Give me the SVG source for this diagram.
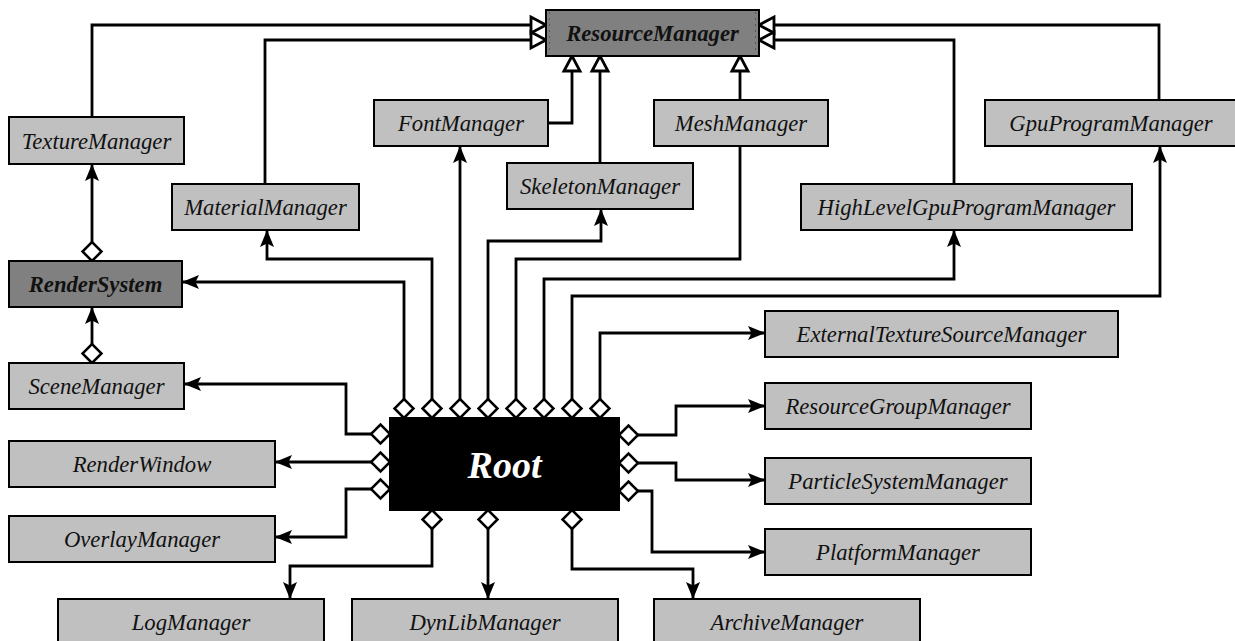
<svg xmlns="http://www.w3.org/2000/svg" width="1235" height="641" viewBox="0 0 1235 641">
<style>
.box{fill:#c0c0c0;stroke:#000;stroke-width:2}
.abs{fill:#808080;stroke:#000;stroke-width:2}
.root{fill:#000;stroke:#000;stroke-width:2}
text{font-family:"Liberation Serif","Times New Roman",serif;font-style:italic;font-size:22.7px;text-anchor:middle;fill:#111}
.b{font-weight:bold}
.rt{font-weight:bold;font-size:38px;fill:#fff}
.c{fill:none;stroke:#000;stroke-width:2.8}
.gen{marker-end:url(#tri)}
.comp{marker-start:url(#dia);marker-end:url(#arr)}
.compn{marker-start:url(#dia)}
</style>
<defs>
<marker id="arr" markerUnits="userSpaceOnUse" markerWidth="22" markerHeight="18" viewBox="0 -9 19 18" refX="17" refY="0" orient="auto" overflow="visible">
<path d="M17,0 L0,-7 L3.5,0 L0,7 Z" fill="#000"/>
</marker>
<marker id="tri" markerUnits="userSpaceOnUse" markerWidth="22" markerHeight="22" viewBox="-2 -11 20 22" refX="15" refY="0" orient="auto" overflow="visible">
<path d="M0,-8 L15,0 L0,8 Z" fill="#fff" stroke="#000" stroke-width="2.8" stroke-linejoin="miter"/>
</marker>
<marker id="dia" markerUnits="userSpaceOnUse" markerWidth="24" markerHeight="24" viewBox="-2 -12 24 24" refX="0" refY="0" orient="auto" overflow="visible">
<path d="M0,0 L9.5,-9.5 L19,0 L9.5,9.5 Z" fill="#fff" stroke="#000" stroke-width="2.5"/>
</marker>
</defs>

<g id="connectors">
<path class="c gen" d="M92,117 V25 H546"/>
<path class="c gen" d="M265,184 V40 H546"/>
<path class="c gen" d="M548,123 H572 V56"/>
<path class="c gen" d="M600,163 V56"/>
<path class="c gen" d="M740,100 V56"/>
<path class="c gen" d="M954,184 V40 H759"/>
<path class="c gen" d="M1159,100 V25 H759"/>
<path class="c comp" d="M92,261 V164"/>
<path class="c comp" d="M92,363 V307"/>
<path class="c comp" d="M404,418 V282 H182"/>
<path class="c comp" d="M432,418 V259 H267 V230"/>
<path class="c comp" d="M460,418 V146"/>
<path class="c comp" d="M488,418 V241 H601 V209"/>
<path class="c compn" d="M516,418 V259 H740 V146"/>
<path class="c comp" d="M544,418 V279 H954 V230"/>
<path class="c comp" d="M572,418 V296 H1160 V146"/>
<path class="c comp" d="M600,418 V333 H765"/>
<path class="c comp" d="M390,434 H346 V384 H184"/>
<path class="c comp" d="M390,462 H275"/>
<path class="c comp" d="M390,489 H346 V537 H275"/>
<path class="c comp" d="M619,435 H676 V406 H765"/>
<path class="c comp" d="M619,463 H676 V480 H765"/>
<path class="c comp" d="M619,491 H652 V552 H765"/>
<path class="c comp" d="M432,510 V566 H290 V599"/>
<path class="c comp" d="M488,510 V599"/>
<path class="c comp" d="M572,510 V569 H693 V599"/>
</g>

<g id="ResourceManager">
<rect class="abs" x="546" y="10" width="213" height="46"/>
<line x1="549.5" y1="12" x2="549.5" y2="54" stroke="#555" stroke-width="1" stroke-dasharray="2,4"/>
<line x1="755.5" y1="12" x2="755.5" y2="54" stroke="#555" stroke-width="1" stroke-dasharray="2,4"/>
<text class="b" x="652.5" y="41">ResourceManager</text>
</g>
<g id="TextureManager"><rect class="box" x="9" y="117" width="175" height="47"/><text x="96.5" y="148.5">TextureManager</text></g>
<g id="MaterialManager"><rect class="box" x="172" y="184" width="187" height="46"/><text x="265.5" y="215">MaterialManager</text></g>
<g id="FontManager"><rect class="box" x="374" y="100" width="174" height="46"/><text x="461" y="131">FontManager</text></g>
<g id="SkeletonManager"><rect class="box" x="507" y="163" width="186" height="46"/><text x="600" y="194">SkeletonManager</text></g>
<g id="MeshManager"><rect class="box" x="654" y="100" width="174" height="46"/><text x="741" y="131">MeshManager</text></g>
<g id="HighLevelGpuProgramManager"><rect class="box" x="801" y="184" width="331" height="46"/><text x="966.5" y="215">HighLevelGpuProgramManager</text></g>
<g id="GpuProgramManager"><rect class="box" x="985" y="100" width="252" height="46"/><text x="1111" y="131">GpuProgramManager</text></g>
<g id="RenderSystem"><rect class="abs" x="9" y="261" width="173" height="46"/><text class="b" x="95.5" y="292">RenderSystem</text></g>
<g id="SceneManager"><rect class="box" x="9" y="363" width="175" height="46"/><text x="96.5" y="394">SceneManager</text></g>
<g id="RenderWindow"><rect class="box" x="9" y="441" width="266" height="46"/><text x="142" y="472">RenderWindow</text></g>
<g id="OverlayManager"><rect class="box" x="9" y="516" width="266" height="46"/><text x="142" y="547">OverlayManager</text></g>
<g id="LogManager"><rect class="box" x="58" y="599" width="266" height="46"/><text x="191" y="630">LogManager</text></g>
<g id="DynLibManager"><rect class="box" x="352" y="599" width="266" height="46"/><text x="485" y="630">DynLibManager</text></g>
<g id="ArchiveManager"><rect class="box" x="654" y="599" width="266" height="46"/><text x="787" y="630">ArchiveManager</text></g>
<g id="ExternalTextureSourceManager"><rect class="box" x="765" y="311" width="353" height="46"/><text x="941.5" y="342">ExternalTextureSourceManager</text></g>
<g id="ResourceGroupManager"><rect class="box" x="765" y="383" width="266" height="46"/><text x="898" y="414">ResourceGroupManager</text></g>
<g id="ParticleSystemManager"><rect class="box" x="765" y="458" width="266" height="46"/><text x="898" y="489">ParticleSystemManager</text></g>
<g id="PlatformManager"><rect class="box" x="765" y="529" width="266" height="46"/><text x="898" y="560">PlatformManager</text></g>
<g id="Root"><rect class="root" x="390" y="418" width="229" height="92"/><text class="rt" x="504.5" y="477.5">Root</text></g>
</svg>
